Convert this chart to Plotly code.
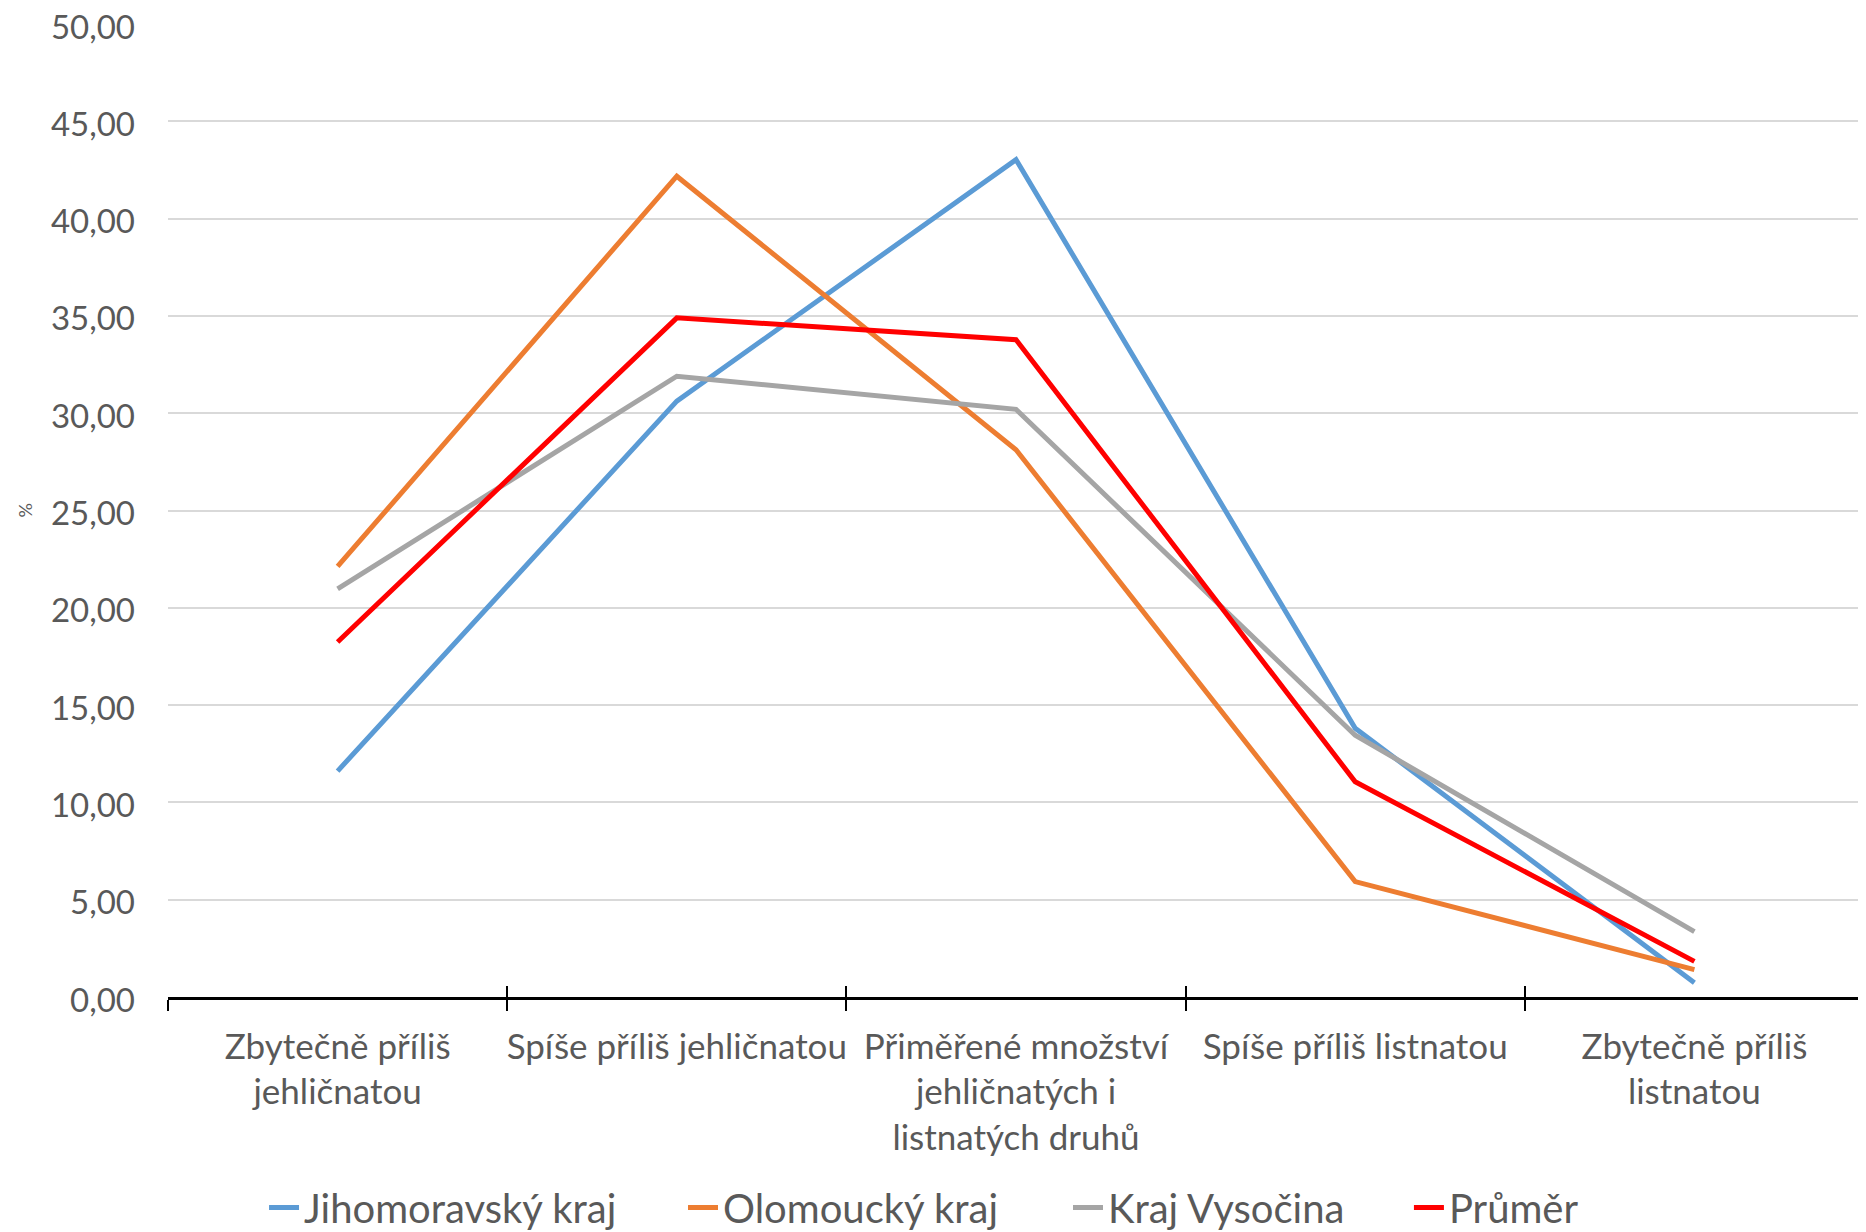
import plotly.graph_objects as go

categories = [
    "Zbytečně příliš<br>jehličnatou",
    "Spíše příliš jehličnatou",
    "Přiměřené množství<br>jehličnatých i<br>listnatých druhů",
    "Spíše příliš listnatou",
    "Zbytečně příliš<br>listnatou",
]
jihomoravsky = [11.61, 30.62, 43.03, 13.81, 0.73]
olomoucky = [22.13, 42.18, 28.12, 5.93, 1.41]
vysocina = [20.97, 31.90, 30.20, 13.45, 3.36]
prumer = [18.24, 34.90, 33.78, 11.06, 1.83]

series_names = ["Jihomoravský kraj", "Olomoucký kraj", "Kraj Vysočina", "Průměr"]
series_values = [jihomoravsky, olomoucky, vysocina, prumer]
series_colors = ["#5B9BD5", "#ED7D31", "#A5A5A5", "#FF0000"]
legend_x = [0.1378, 0.3633, 0.5705, 0.754]
y_ticks = [0, 5, 10, 15, 20, 25, 30, 35, 40, 45, 50]

FONT = "Lato"
TXT = "#595959"

fig = go.Figure()
legends = {}
for i, (name, vals, col) in enumerate(zip(series_names, series_values, series_colors)):
    lg = "legend" if i == 0 else f"legend{i+1}"
    fig.add_trace(go.Scatter(
        x=categories, y=vals, name=name, mode="lines",
        line=dict(color=col, width=5), legend=lg,
    ))
    legends[lg] = dict(
        orientation="h", xref="container", yref="container",
        x=legend_x[i], xanchor="left", y=0.02, yanchor="middle",
        font=dict(family=FONT, size=40, color=TXT),
        itemwidth=30, bgcolor="rgba(0,0,0,0)",
    )

# helper trace for a second x-axis carrying the inside half of the tick marks
fig.add_trace(go.Scatter(x=categories, y=[None]*len(categories), xaxis="x2",
                         showlegend=False, hoverinfo="skip"))

fig.update_layout(
    width=1858, height=1224,
    margin=dict(l=160, r=2, t=16, b=235),
    paper_bgcolor="white", plot_bgcolor="white",
    separators=",.",
    font=dict(family=FONT, color=TXT, size=30),
    xaxis=dict(
        type="category", range=[-0.5, 4.5], automargin=False, tickangle=0,
        showline=True, linecolor="black", linewidth=2.5,
        ticks="outside", tickson="boundaries", ticklen=11, tickwidth=2, tickcolor="black",
        showgrid=False, zeroline=False,
        tickfont=dict(family=FONT, size=35, color=TXT),
        ticklabelstandoff=17,
    ),
    xaxis2=dict(
        type="category", range=[-0.5, 4.5], overlaying="x", anchor="y",
        categoryarray=categories, categoryorder="array", automargin=False,
        side="bottom", showline=False,
        ticks="inside", tickson="boundaries", ticklen=11, tickwidth=2, tickcolor="black",
        showticklabels=False, showgrid=False, zeroline=False,
    ),
    yaxis=dict(
        range=[0, 50], tickvals=y_ticks, tickformat=".2f", automargin=False,
        ticklabeloverflow="allow", ticklabelshift=3,
        showgrid=True, gridcolor="#D9D9D9", gridwidth=2,
        zeroline=False, showline=False, ticks="",
        tickfont=dict(family=FONT, size=33, color=TXT),
        ticklabelstandoff=32,
    ),
    annotations=[dict(
        text="%", xref="paper", yref="paper", x=0, y=0.5,
        xshift=-157, showarrow=False, textangle=-90,
        font=dict(family=FONT, size=18, color=TXT),
    )],
    **legends,
)

fig.write_html("out.html")
